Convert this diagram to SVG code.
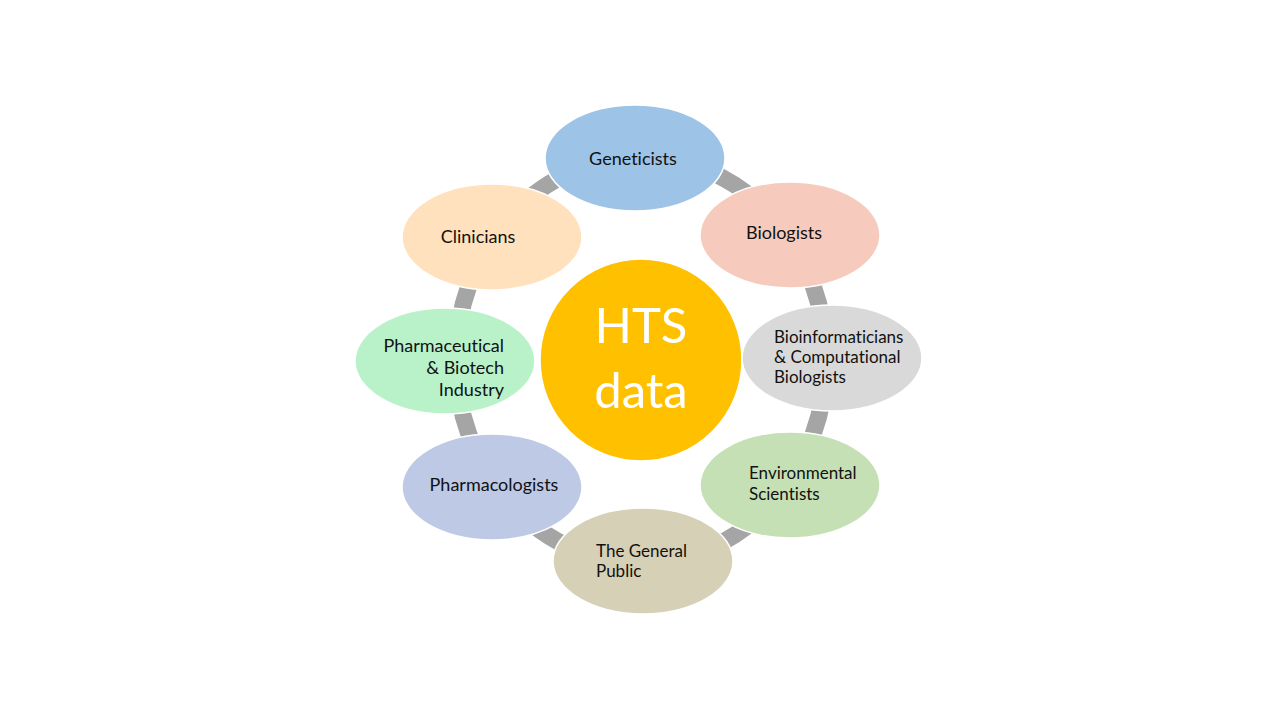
<svg xmlns="http://www.w3.org/2000/svg" width="1280" height="720" viewBox="0 0 1280 720">
<style>
.n{stroke:#fff;stroke-width:1.5}
.t{font-family:Lato,"Liberation Sans",sans-serif;font-size:18px;fill:#111;font-variant-ligatures:none}
.s{font-size:17px}
.c{text-anchor:middle}
.h{font-family:Lato,"Liberation Sans",sans-serif;font-size:49px;fill:#fff;text-anchor:middle}
</style>
<rect width="1280" height="720" fill="#fff"/>
<g id="connectors">
<ellipse cx="641" cy="360" rx="185" ry="203" fill="none" stroke="#A5A5A5" stroke-width="17"/>
</g>
<g id="center">
<circle cx="641" cy="360" r="101" fill="#FFC000" stroke="#fff" stroke-width="1.5"/>
<text class="h" x="641" y="343">HTS</text>
<text class="h" x="641" y="408">data</text>
</g>
<g id="geneticists">
<ellipse class="n" cx="635" cy="158" rx="90" ry="53" fill="#9DC3E6"/>
<text class="t c" x="633" y="165">Geneticists</text>
</g>
<g id="biologists">
<ellipse class="n" cx="790" cy="235" rx="90" ry="53" fill="#F6CBBD"/>
<text class="t c" x="784" y="239">Biologists</text>
</g>
<g id="bioinformaticians">
<ellipse class="n" cx="832" cy="358" rx="90" ry="53" fill="#D9D9D9"/>
<text class="t s" x="774" y="343">Bioinformaticians</text>
<text class="t s" x="774" y="363">&amp; Computational</text>
<text class="t s" x="774" y="383">Biologists</text>
</g>
<g id="environmental">
<ellipse class="n" cx="790" cy="485" rx="90" ry="53" fill="#C5E0B4"/>
<text class="t s" x="749" y="479">Environmental</text>
<text class="t s" x="749" y="500">Scientists</text>
</g>
<g id="general-public">
<ellipse class="n" cx="643" cy="561" rx="90" ry="53" fill="#D6D0B6"/>
<text class="t s" x="596" y="557">The General</text>
<text class="t s" x="596" y="577">Public</text>
</g>
<g id="pharmacologists">
<ellipse class="n" cx="492" cy="487" rx="90" ry="53" fill="#BDC9E5"/>
<text class="t c" x="494" y="491">Pharmacologists</text>
</g>
<g id="pharmaceutical">
<ellipse class="n" cx="445" cy="361" rx="90" ry="53" fill="#B9F2C9"/>
<text class="t" x="504" y="352" text-anchor="end">Pharmaceutical</text>
<text class="t" x="504" y="374" text-anchor="end">&amp; Biotech</text>
<text class="t" x="504" y="396" text-anchor="end">Industry</text>
</g>
<g id="clinicians">
<ellipse class="n" cx="492" cy="237" rx="90" ry="53" fill="#FFE1BD"/>
<text class="t c" x="478" y="243">Clinicians</text>
</g>
</svg>
